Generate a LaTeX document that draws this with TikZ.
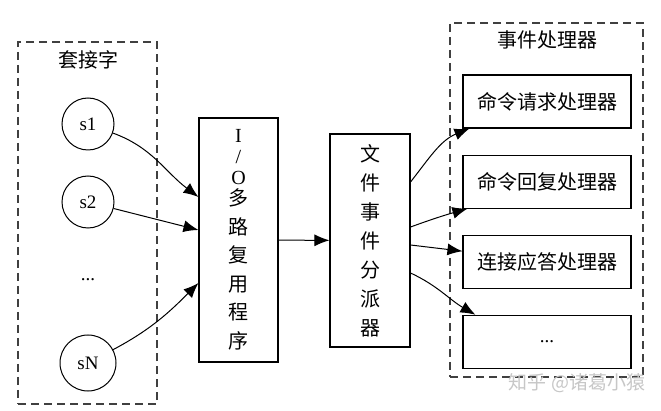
\documentclass[tikz,border=0pt]{standalone}
\usepackage{fontspec}
\setmainfont{Liberation Serif}
\newfontfamily\cjk{Noto Sans CJK SC}
\usetikzlibrary{positioning}
\usetikzlibrary{arrows.meta}

\begin{document}
\begin{tikzpicture}[x=1pt,y=1pt]
\tikzset{group/.style={rectangle, draw=black!75, line width=1.3pt, dash pattern=on 8pt off 5pt, inner sep=0pt}}
\tikzset{sock/.style={circle, draw, line width=1pt, minimum size=52pt, inner sep=0pt, font=\fontsize{19}{22}\selectfont}}
\tikzset{proc/.style={rectangle, draw, line width=1.1pt, inner sep=0pt, align=center, font=\fontsize{20}{28.5}\selectfont\cjk}}
\tikzset{handler/.style={rectangle, draw, line width=1.1pt, minimum width=168pt, minimum height=53pt, inner sep=0pt, font=\fontsize{20}{24}\selectfont\cjk}}
\tikzset{title/.style={font=\fontsize{20}{24}\selectfont\cjk}}
\tikzset{flow/.style={-{Latex[length=15pt,width=12pt]}, line width=1pt}}
\useasboundingbox (0,0) rectangle (661,-411);

% sockets
\node[group, minimum width=139pt, minimum height=362pt] (sockets) at (87.5,-223) {};
\node[title] (socktitle) at (88,-60) {套接字};
\node[sock] (s1) at (88,-124) {s1};
\node[sock, below=25pt of s1] (s2) {s2};
\node[font=\fontsize{19}{22}\selectfont] (sdots) at (88,-280) {...};
\node[sock, minimum size=56pt] (sN) at (88,-363) {sN};

% multiplexer and dispatcher
\node[proc, minimum width=79pt, minimum height=244pt] (iomux) at (238.5,-240)
  {{\rmfamily I}\\[-7.5pt]{\rmfamily /}\\[-7.5pt]{\rmfamily O}\\[-7.5pt]多\\路\\复\\用\\程\\序};
\node[proc, minimum width=80pt, minimum height=213pt, font=\fontsize{20}{29}\selectfont\cjk] (dispatcher) at (370,-240.5)
  {文\\件\\事\\件\\分\\派\\器};

% handlers
\node[group, minimum width=193pt, minimum height=354pt] (handlers) at (546.5,-200) {};
\node[title] (handtitle) at (547,-40) {事件处理器};
\node[handler] (reqh) at (547,-101.5) {命令请求处理器};
\node[handler, below=26pt of reqh] (reph) {命令回复处理器};
\node[handler, below=26pt of reph] (acch) {连接应答处理器};
\node[handler, below=26pt of acch, font=\fontsize{19}{22}\selectfont] (moreh) {...};

\draw[flow] (s1) to[out=-20,in=143] ([yshift=43pt]iomux.west);
\draw[flow] (s2) -- ([yshift=10pt]iomux.west);
\draw[flow] (sN) to[out=28,in=-135] ([yshift=-43pt]iomux.west);
\draw[flow] (iomux) -- (dispatcher);
\draw[flow] ([yshift=58.5pt]dispatcher.east) to[out=52,in=202] ([xshift=7pt]reqh.south west);
\draw[flow] ([yshift=13.5pt]dispatcher.east) to[out=20,in=196] ([xshift=5pt]reph.south west);
\draw[flow] ([yshift=-4.5pt]dispatcher.east) -- ([yshift=10.5pt]acch.west);
\draw[flow] ([yshift=-32.5pt]dispatcher.east) to[out=-25,in=150] ([xshift=13pt]moreh.north west);

\node[text=black!22, font=\fontsize{19}{22}\selectfont\cjk] (mark) at (577,-383) {知乎 @诸葛小猿};
\end{tikzpicture}
\end{document}
